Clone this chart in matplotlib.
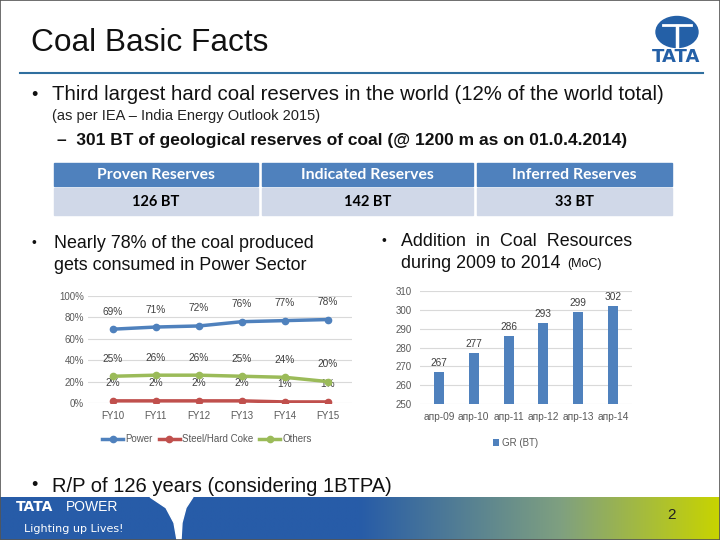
import matplotlib
matplotlib.use("Agg")
import matplotlib.pyplot as plt
import numpy as np
from matplotlib.patches import Rectangle, Ellipse, Polygon

# ---------------- data ----------------
years = ["FY10", "FY11", "FY12", "FY13", "FY14", "FY15"]
power = [69, 71, 72, 76, 77, 78]
steel = [2, 2, 2, 2, 1, 1]
others = [25, 26, 26, 25, 24, 20]
series_names = ["Power", "Steel/Hard Coke", "Others"]

bar_cats = ["апр-09", "апр-10", "апр-11", "апр-12", "апр-13", "апр-14"]
gr_bt = [267, 277, 286, 293, 299, 302]
bar_name = "GR (BT)"

table_headers = ["Proven Reserves", "Indicated Reserves", "Inferred Reserves"]
table_values = ["126 BT", "142 BT", "33 BT"]

W, H = 720, 540
fig = plt.figure(figsize=(7.2, 5.4), dpi=100)
fig.patch.set_facecolor("white")

def fx(x):
    return x / W

def fy(y):
    return 1 - y / H

FONT = "Liberation Sans"
TXT = "#111111"

# slide border
fig.add_artist(Rectangle((0, 0), 1, 1, transform=fig.transFigure, fill=False,
                         edgecolor="#555555", lw=1.2))

# title
fig.text(fx(31), fy(43), "Coal Basic Facts", fontsize=22.8, family=FONT,
         color=TXT, va="center", ha="left")
fig.add_artist(plt.Line2D([fx(20), fx(703)], [fy(73), fy(73)],
                          transform=fig.transFigure, color="#2F6F9F", lw=1.5))

# TATA logo
fig.add_artist(Ellipse((fx(677), fy(32)), 42 / W, 31 / H, transform=fig.transFigure,
                       color="#2460A7"))
fig.add_artist(plt.Line2D([fx(663), fx(691)], [fy(25), fy(25)], transform=fig.transFigure,
                          color="white", lw=2))
fig.add_artist(plt.Line2D([fx(677), fx(677)], [fy(26), fy(47)], transform=fig.transFigure,
                          color="white", lw=2.5))
fig.text(fx(676), fy(57), "TATA", fontsize=13, family="DejaVu Sans", weight="bold",
         color="#2460A7", ha="center", va="center")

# bullets
fig.text(fx(31), fy(95), "•", fontsize=13, family=FONT, color=TXT, va="center")
fig.text(fx(52), fy(95), "Third largest hard coal reserves in the world (12% of the world total)",
         fontsize=14.7, family=FONT, color=TXT, va="center")
fig.text(fx(52), fy(116), "(as per IEA – India Energy Outlook 2015)",
         fontsize=10.5, family=FONT, color="#222222", va="center")
fig.text(fx(57), fy(141), "–  301 BT of geological reserves of coal (@ 1200 m as on 01.0.4.2014)",
         fontsize=12.5, family=FONT, color=TXT, va="center", weight="bold")

# table
cols = [(54, 258), (262, 473), (477, 672)]
for (x0, x1), hdr, val in zip(cols, table_headers, table_values):
    fig.add_artist(Rectangle((fx(x0), fy(186)), (x1 - x0) / W, 23 / H,
                             transform=fig.transFigure, color="#4F81BD"))
    fig.add_artist(Rectangle((fx(x0), fy(215)), (x1 - x0) / W, 27 / H,
                             transform=fig.transFigure, color="#D0D8E8"))
    fig.text(fx((x0 + x1) / 2), fy(175), hdr, fontsize=11.3, family="Lato",
             weight="bold", color="white", ha="center", va="center")
    fig.text(fx((x0 + x1) / 2), fy(202), val, fontsize=10.5, family="Lato",
             weight="bold", color="black", ha="center", va="center")

# middle bullets
fig.text(fx(31), fy(243), "•", fontsize=10, family=FONT, color=TXT, va="center")
fig.text(fx(54), fy(243), "Nearly 78% of the coal produced", fontsize=12.9,
         family=FONT, color=TXT, va="center")
fig.text(fx(54), fy(265), "gets consumed in Power Sector", fontsize=12.9,
         family=FONT, color=TXT, va="center")
fig.text(fx(382), fy(241), "•", fontsize=10, family=FONT, color=TXT, va="center")
fig.text(fx(401), fy(241), "Addition  in  Coal  Resources", fontsize=12.9,
         family=FONT, color=TXT, va="center")
fig.text(fx(401), fy(263), "during 2009 to 2014", fontsize=12.9,
         family=FONT, color=TXT, va="center")
fig.text(fx(567), fy(264), "(MoC)", fontsize=9, family=FONT, color=TXT, va="center")

# ---------------- line chart ----------------
C_POW, C_STL, C_OTH = "#4F81BD", "#C0504D", "#9BBB59"
GRAY = "#595959"
ax1 = fig.add_axes([fx(88), fy(403), (352 - 88) / W, (403 - 296) / H])
x = np.arange(len(years))
for vals, c, name in [(power, C_POW, series_names[0]), (steel, C_STL, series_names[1]),
                      (others, C_OTH, series_names[2])]:
    v = np.array(vals) / 100.0
    ax1.plot(x, v, color=c, lw=2.5, marker="o", ms=4.5, label=name, zorder=3)
    for xi, vi in zip(x, vals):
        ax1.annotate(f"{vi}%", (xi, vi / 100.0), xytext=(0, 9), textcoords="offset points",
                     ha="center", va="bottom", fontsize=7.3, family=FONT, color="#404040")
ax1.set_xlim(-0.58, 5.56)
ax1.set_ylim(0, 1.0)
ax1.set_yticks(np.arange(0, 1.01, 0.2))
ax1.set_yticklabels([f"{int(round(t * 100))}%" for t in np.arange(0, 1.01, 0.2)])
ax1.set_xticks(x)
ax1.set_xticklabels(years)
ax1.grid(axis="y", color="#D9D9D9", lw=0.8)
ax1.set_axisbelow(True)
for s in ax1.spines.values():
    s.set_visible(False)
ax1.tick_params(axis="y", length=0, labelsize=7, colors=GRAY, pad=3)
ax1.tick_params(axis="x", length=0, labelsize=7, colors=GRAY, pad=6)
for lab in ax1.get_xticklabels() + ax1.get_yticklabels():
    lab.set_family(FONT)
leg1 = ax1.legend(loc="upper center", bbox_to_anchor=(0.45, -0.21), ncol=3, frameon=False,
                  handlelength=2.2, columnspacing=0.6, handletextpad=0.2,
                  prop={"family": FONT, "size": 7})
for txt in leg1.get_texts():
    txt.set_color(GRAY)

# ---------------- bar chart ----------------
ax2 = fig.add_axes([fx(420), fy(404), (632 - 420) / W, (404 - 291) / H])
xb = np.arange(len(bar_cats))
ax2.bar(xb, gr_bt, width=0.29, color="#4F81BD", label=bar_name, zorder=3)
for xi, vi in zip(xb, gr_bt):
    ax2.annotate(f"{vi}", (xi, vi), xytext=(0, 3), textcoords="offset points",
                 ha="center", va="bottom", fontsize=7.3, family=FONT, color="#404040")
ax2.set_xlim(-0.546, 5.546)
ax2.set_ylim(250, 310)
ax2.set_yticks(np.arange(250, 311, 10))
ax2.set_xticks(xb)
ax2.set_xticklabels(bar_cats)
ax2.grid(axis="y", color="#D9D9D9", lw=0.8)
ax2.set_axisbelow(True)
for s in ax2.spines.values():
    s.set_visible(False)
ax2.tick_params(axis="y", length=0, labelsize=7, colors=GRAY, pad=6)
ax2.tick_params(axis="x", length=0, labelsize=7.3, colors=GRAY, pad=6)
for lab in ax2.get_xticklabels() + ax2.get_yticklabels():
    lab.set_family(FONT)
leg2 = ax2.legend(loc="upper center", bbox_to_anchor=(0.45, -0.22), frameon=False,
                  handlelength=0.6, handleheight=0.8, handletextpad=0.3,
                  prop={"family": FONT, "size": 7})
for txt in leg2.get_texts():
    txt.set_color(GRAY)

# last bullet
fig.text(fx(31), fy(486), "•", fontsize=13, family=FONT, color=TXT, va="center")
fig.text(fx(52), fy(486), "R/P of 126 years (considering 1BTPA)", fontsize=14.5,
         family=FONT, color=TXT, va="center")

# footer band with gradient
axf = fig.add_axes([0, 0, 1, (540 - 497) / H])
axf.set_axis_off()
grad_x = np.linspace(0, 1, 400)
c_blue = np.array([0x27, 0x5C, 0xA8]) / 255
c_mid = np.array([0x7F, 0xA0, 0x80]) / 255
c_yel = np.array([0xC8, 0xD4, 0x00]) / 255
img = np.zeros((1, 400, 3))
for i, g in enumerate(grad_x):
    if g < 0.5:
        col = c_blue
    elif g < 0.78:
        tt = (g - 0.5) / 0.28
        col = c_blue * (1 - tt) + c_mid * tt
    else:
        tt = (g - 0.78) / 0.22
        col = c_mid * (1 - tt) + c_yel * tt
    img[0, i] = col
axf.imshow(img, aspect="auto", extent=[0, 1, 0, 1])
axf.set_xlim(0, 1)
axf.set_ylim(0, 1)
# white swoosh
sw = Polygon([[150 / W, 1.0], [193 / W, 1.0], [186 / W, 0.75], [182 / W, 0.4],
              [181 / W, 0.0], [177 / W, 0.0], [174 / W, 0.4], [166 / W, 0.75]],
             closed=True, color="white", transform=axf.transAxes)
axf.add_patch(sw)
fig.text(fx(16), fy(507), "TATA", fontsize=10, family="DejaVu Sans", weight="bold",
         color="white", va="center")
fig.text(fx(66), fy(507), "POWER", fontsize=10, family=FONT, color="white", va="center")
fig.text(fx(24), fy(529), "Lighting up Lives!", fontsize=8, family="Liberation Sans Narrow",
         color="white", va="center")
fig.text(fx(672), fy(515), "2", fontsize=11, family=FONT, color="#222222",
         ha="center", va="center")

fig.savefig("out.png", dpi=100)
